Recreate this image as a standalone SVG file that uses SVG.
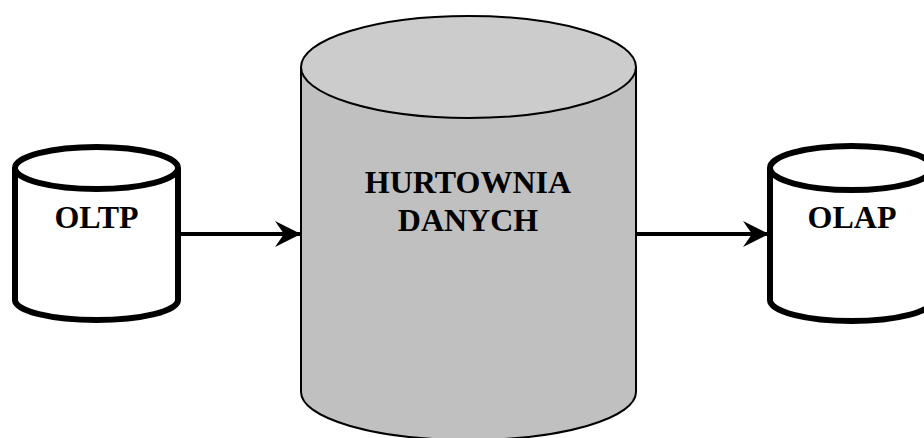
<svg xmlns="http://www.w3.org/2000/svg" width="924" height="438" viewBox="0 0 924 438">
<defs>
<style>
.lbl{font-family:"Liberation Serif","Times New Roman",serif;font-weight:bold;font-size:32px;fill:#000;text-anchor:middle}
.small{fill:#fff;stroke:#000;stroke-width:6}
.big{stroke:#000;stroke-width:2}
.conn{stroke:#000;stroke-width:4;fill:none}
</style>
<marker id="ah" viewBox="0 0 26 26" refX="25" refY="13" markerWidth="26" markerHeight="26" markerUnits="userSpaceOnUse" orient="auto">
<path d="M0,0 L26,13 L0,26 L9,13 Z" fill="#000"/>
</marker>
</defs>
<rect width="924" height="438" fill="#fff"/>
<g id="connectors">
<line class="conn" x1="181" y1="234" x2="300" y2="234" marker-end="url(#ah)"/>
<line class="conn" x1="637" y1="234" x2="768" y2="234" marker-end="url(#ah)"/>
</g>
<g id="oltp">
<path class="small" d="M15,168 L15,300 A81.5,20 0 0 0 178,300 L178,168"/>
<ellipse class="small" cx="96.5" cy="168" rx="81.5" ry="21"/>
<text class="lbl" x="96.5" y="228">OLTP</text>
</g>
<g id="hurtownia">
<path class="big" fill="#c0c0c0" d="M301,67 L301,392 A167.5,48 0 0 0 636,392 L636,67"/>
<ellipse class="big" fill="#cccccc" cx="468.5" cy="67" rx="167.5" ry="51"/>
<text class="lbl" x="468" y="193">HURTOWNIA</text>
<text class="lbl" x="468" y="231">DANYCH</text>
</g>
<g id="olap">
<path class="small" d="M770,168 L770,300 A81.5,21 0 0 0 933,300 L933,168"/>
<ellipse class="small" cx="851.5" cy="168" rx="81.5" ry="22"/>
<text class="lbl" x="852" y="228">OLAP</text>
</g>
</svg>
